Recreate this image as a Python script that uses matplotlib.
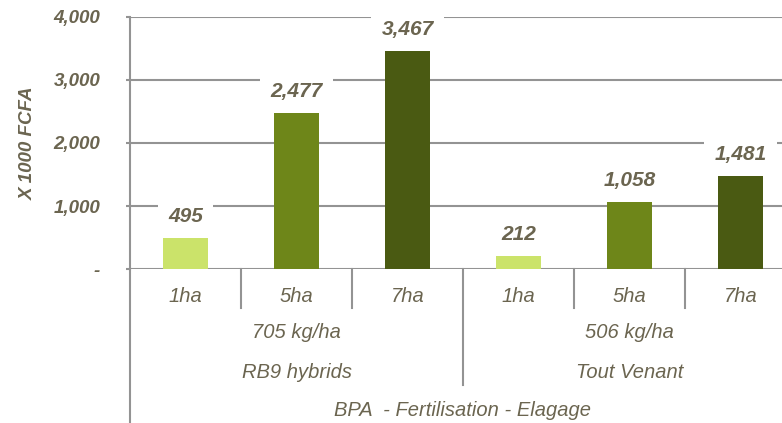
import matplotlib
matplotlib.use("Agg")
import matplotlib.pyplot as plt
import matplotlib.transforms as mtrans

plt.rcParams['font.family'] = ['Liberation Sans', 'DejaVu Sans']

categories = ["1ha", "5ha", "7ha", "1ha", "5ha", "7ha"]
values = [495, 2477, 3467, 212, 1058, 1481]
doses = ["705 kg/ha", "506 kg/ha"]
groups = ["RB9 hybrids", "Tout Venant"]
top_label = "BPA  - Fertilisation - Elagage"
yticks = [0, 1000, 2000, 3000, 4000]
ytick_labels = ["-", "1,000", "2,000", "3,000", "4,000"]
colors = ["#cbe36a", "#6e8619", "#4a5a12", "#cbe36a", "#6e8619", "#4a5a12"]

txt = "#6b6550"
gray = "#939393"

W, H = 782, 423
fig = plt.figure(figsize=(W / 100, H / 100), dpi=100)
x0, x1, ytop, ybot = 130, 796, 17, 269
ax = fig.add_axes([x0 / W, (H - ybot) / H, (x1 - x0) / W, (ybot - ytop) / H])

xs = list(range(len(values)))
ax.bar(xs, values, width=0.41, color=colors, zorder=3)
ax.set_xlim(-0.5, 5.5)
ax.set_ylim(0, 4000)

for s in ["top", "right", "bottom"]:
    ax.spines[s].set_visible(False)
ax.spines["left"].set_color(gray)
ax.spines["left"].set_linewidth(1.5)
ax.spines["left"].set_bounds(0, 4000)

ax.set_yticks(yticks)
ax.set_yticklabels(ytick_labels, fontsize=13.5, fontweight="bold", fontstyle="italic", color=txt)
ax.tick_params(axis="y", length=3, width=1.5, color=gray, pad=18.5)
ax.set_xticks([])
for yv in yticks:
    ax.axhline(yv, color=gray, lw=1.5, zorder=1)

ax.set_ylabel("X 1000 FCFA", fontsize=13.5, fontweight="bold", fontstyle="italic", color=txt)
ax.yaxis.set_label_coords((37 - x0) / (x1 - x0), 0.5)

for x, v in zip(xs, values):
    ax.annotate(f"{v:,}", (x, v), xytext=(0, 15.5), textcoords="offset points",
                ha="center", va="center", fontsize=15, fontweight="bold", fontstyle="italic",
                color=txt, zorder=5,
                bbox=dict(boxstyle="square,pad=0.5", fc="white", ec="none"))

tr = mtrans.blended_transform_factory(ax.transData, ax.transAxes)
ph = ybot - ytop
def fy(py):
    return -(py - ybot) / ph

# separators
for xv in [0.5, 1.5, 3.5, 4.5]:
    ax.plot([xv, xv], [0, fy(308)], transform=tr, color=gray, lw=1.5, clip_on=False)
ax.plot([2.5, 2.5], [0, fy(385)], transform=tr, color=gray, lw=1.5, clip_on=False)
ax.plot([-0.5, -0.5], [0, fy(423)], transform=tr, color=gray, lw=1.5, clip_on=False)

fs = 14.5
for x, c in zip(xs, categories):
    ax.text(x, fy(297), c, transform=tr, ha="center", va="center", fontsize=fs,
            fontstyle="italic", color=txt)
for i, (d, g) in enumerate(zip(doses, groups)):
    xc = 1 + 3 * i
    ax.text(xc, fy(333), d, transform=tr, ha="center", va="center", fontsize=fs,
            fontstyle="italic", color=txt)
    ax.text(xc, fy(372), g, transform=tr, ha="center", va="center", fontsize=fs,
            fontstyle="italic", color=txt)
ax.text(2.5, fy(410), top_label, transform=tr, ha="center", va="center", fontsize=fs,
        fontstyle="italic", color=txt)

fig.savefig("out.png", dpi=100)
